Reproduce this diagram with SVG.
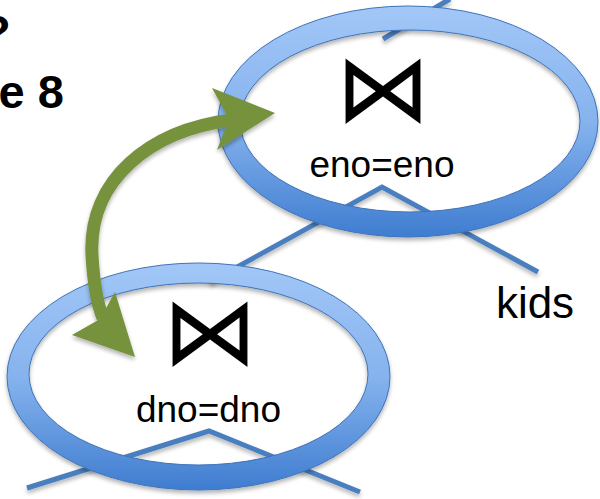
<svg xmlns="http://www.w3.org/2000/svg" width="600" height="499" viewBox="0 0 600 499">
  <defs>
    <linearGradient id="ringFill" x1="0" y1="0" x2="0" y2="1">
      <stop offset="0" stop-color="#a2c7f7"/>
      <stop offset="0.5" stop-color="#86b3ee"/>
      <stop offset="1" stop-color="#3f7dd0"/>
    </linearGradient>
    <filter id="shadow" x="-10%" y="-10%" width="120%" height="130%">
      <feGaussianBlur in="SourceAlpha" stdDeviation="2"/>
      <feOffset dx="0" dy="3" result="off"/>
      <feComponentTransfer><feFuncA type="linear" slope="0.3"/></feComponentTransfer>
      <feMerge><feMergeNode/><feMergeNode in="SourceGraphic"/></feMerge>
    </filter>
  </defs>
  <style>
    .edge { fill: none; stroke: #4a7ebf; stroke-width: 5; stroke-linecap: butt; stroke-linejoin: miter; }
    .ring { fill: url(#ringFill); fill-rule: evenodd; stroke: #3f73b8; stroke-width: 1; }
    .lbl { font-family: "Liberation Sans", Arial, sans-serif; fill: #000; text-anchor: middle; }
    .op { font-family: "DejaVu Sans", sans-serif; fill: #000; text-anchor: middle; }
    .title { font-family: "Liberation Sans", Arial, sans-serif; font-weight: bold; font-size: 47px; fill: #000; }
    .swap { fill: #76923c; }
  </style>

  <!-- heading text, partly outside the frame -->
  <text class="title" x="-18" y="48">?</text>
  <text class="title" x="-1.5" y="108">e 8</text>

  <!-- tree edges, drawn beneath the rings -->
  <g id="edges" filter="url(#shadow)">
    <polyline class="edge" points="383,39 450,-1"/>
    <polyline class="edge" points="210,282 382,187 538,272"/>
    <polyline class="edge" points="27,488 209,431 360,492"/>
  </g>

  <!-- upper join node -->
  <g id="join-eno" filter="url(#shadow)">
    <path class="ring" d="M218,121.5 a190,115.5 0 1,0 380,0 a190,115.5 0 1,0 -380,0 Z M240,121 a170,91 0 1,0 340,0 a170,91 0 1,0 -340,0 Z"/>
  </g>
  <g id="join-eno-label">
    <text class="op" x="383" y="121" font-size="95">⋈</text>
    <text class="lbl" x="382" y="177" font-size="37">eno=eno</text>
  </g>

  <!-- lower join node -->
  <g id="join-dno" filter="url(#shadow)">
    <path class="ring" d="M7,376.5 a191.5,113.5 0 1,0 383,0 a191.5,113.5 0 1,0 -383,0 Z M29,374 a169.5,91 0 1,0 339,0 a169.5,91 0 1,0 -339,0 Z"/>
  </g>
  <g id="join-dno-label">
    <text class="op" x="210" y="364" font-size="95">⋈</text>
    <text class="lbl" x="208.5" y="422" font-size="37">dno=dno</text>
  </g>

  <!-- leaf relation -->
  <g id="kids">
    <text class="lbl" x="535" y="318" font-size="44">kids</text>
  </g>

  <!-- curved double-headed swap arrow -->
  <g id="swap-arrow" filter="url(#shadow)">
    <path d="M232,120 C150,130 88,180 92,255 C94,290 98,306 103,318" fill="none" stroke="#76923c" stroke-width="13"/>
    <polygon class="swap" points="275,113 212,88 229,119 217,150"/>
    <polygon class="swap" points="135,357 72,335 100,319 115,292"/>
  </g>
</svg>
